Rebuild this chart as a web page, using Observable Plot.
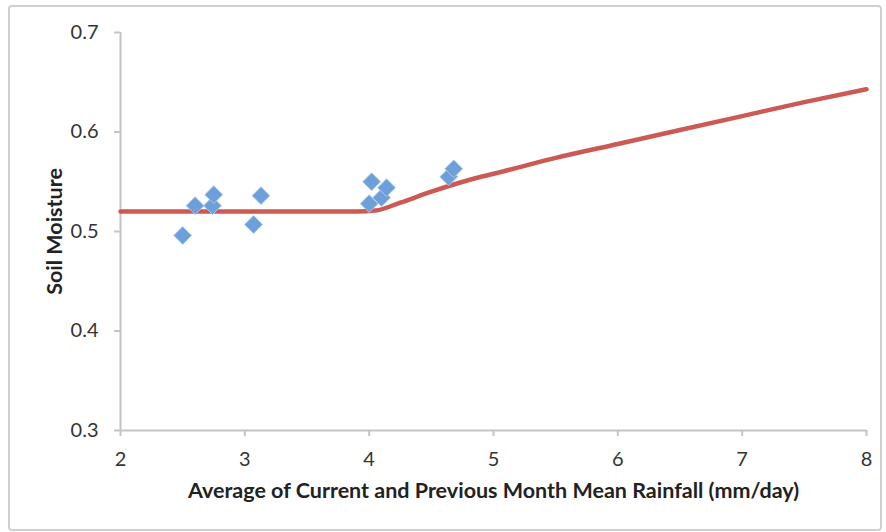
<!DOCTYPE html>
<html>
<head>
<meta charset="utf-8">
<script src="https://cdn.jsdelivr.net/npm/d3@7"></script>
<script src="https://cdn.jsdelivr.net/npm/@observablehq/plot@0.6"></script>
<style>
  html, body { margin: 0; padding: 0; background: #fff; }
  #wrap { position: relative; width: 886px; height: 532px; }
  #border { position: absolute; left: 8px; top: 5px; width: 870px; height: 522px;
            border: 2px solid #cfcfcf; border-radius: 4px; pointer-events: none; }
</style>
</head>
<body>
<div id="wrap"><div id="border"></div></div>
<script>
// Observed points
const rainfall = [2.50, 2.60, 2.74, 2.75, 3.07, 3.13, 4.00, 4.02, 4.10, 4.14, 4.64, 4.68];
const moisture = [0.496, 0.526, 0.526, 0.537, 0.507, 0.536, 0.528, 0.550, 0.534, 0.544, 0.555, 0.563];

// Fitted curve
const curveX = [2.0, 3.0, 3.9, 4.05, 4.25, 4.5, 4.9, 5.0, 5.5, 6.0, 6.5, 7.0, 7.5, 8.0];
const curveY = [0.520, 0.520, 0.520, 0.521, 0.529, 0.540, 0.555, 0.558, 0.574, 0.588, 0.602, 0.616, 0.630, 0.643];

const xTicks = [2, 3, 4, 5, 6, 7, 8];
const yTicks = [0.3, 0.4, 0.5, 0.6, 0.7];
const xLabel = "Average of Current and Previous Month Mean Rainfall (mm/day)";
const yLabel = "Soil Moisture";

const points = rainfall.map((x, i) => ({x, y: moisture[i]}));
const curve = curveX.map((x, i) => ({x, y: curveY[i]}));

const axisColor = "#c4c4c4";
const font = "Lato, 'Open Sans', sans-serif";

const chart = Plot.plot({
  width: 886,
  height: 532,
  marginLeft: 120,
  marginRight: 20,
  marginTop: 32,
  marginBottom: 102,
  style: {fontFamily: font, background: "transparent"},
  x: {domain: [2, 8]},
  y: {domain: [0.3, 0.7]},
  marks: [
    Plot.ruleX([2], {stroke: axisColor, strokeWidth: 2}),
    Plot.ruleY([0.3], {stroke: axisColor, strokeWidth: 2}),
    Plot.axisX(xTicks, {tickSize: 6, tickPadding: 15, stroke: axisColor, strokeWidth: 2,
      fill: "#333", fontSize: 20, label: null, tickFormat: d => String(d)}),
    Plot.axisY(yTicks, {tickSize: 6, tickPadding: 16, stroke: axisColor, strokeWidth: 2,
      fill: "#333", fontSize: 20, label: null, tickFormat: d => d.toFixed(1)}),
    Plot.line(curve, {x: "x", y: "y", stroke: "#c9504b", strokeWidth: 4.5, curve: "monotone-x", strokeOpacity: 0.95}),
    Plot.dot(points, {x: "x", y: "y", symbol: "diamond2", r: 8, fill: "#6d9fdb", stroke: "#a8c8ee", strokeWidth: 1}),
    Plot.text([xLabel], {frameAnchor: "bottom", dy: 67, text: d => d, fontSize: 21.5, fontWeight: "bold", fill: "#222"}),
    Plot.text([yLabel], {frameAnchor: "left", dx: -65, rotate: -90, textAnchor: "middle", text: d => d, fontSize: 21.5, fontWeight: "bold", fill: "#222"})
  ]
});
document.getElementById("wrap").prepend(chart);
</script>
</body>
</html>
